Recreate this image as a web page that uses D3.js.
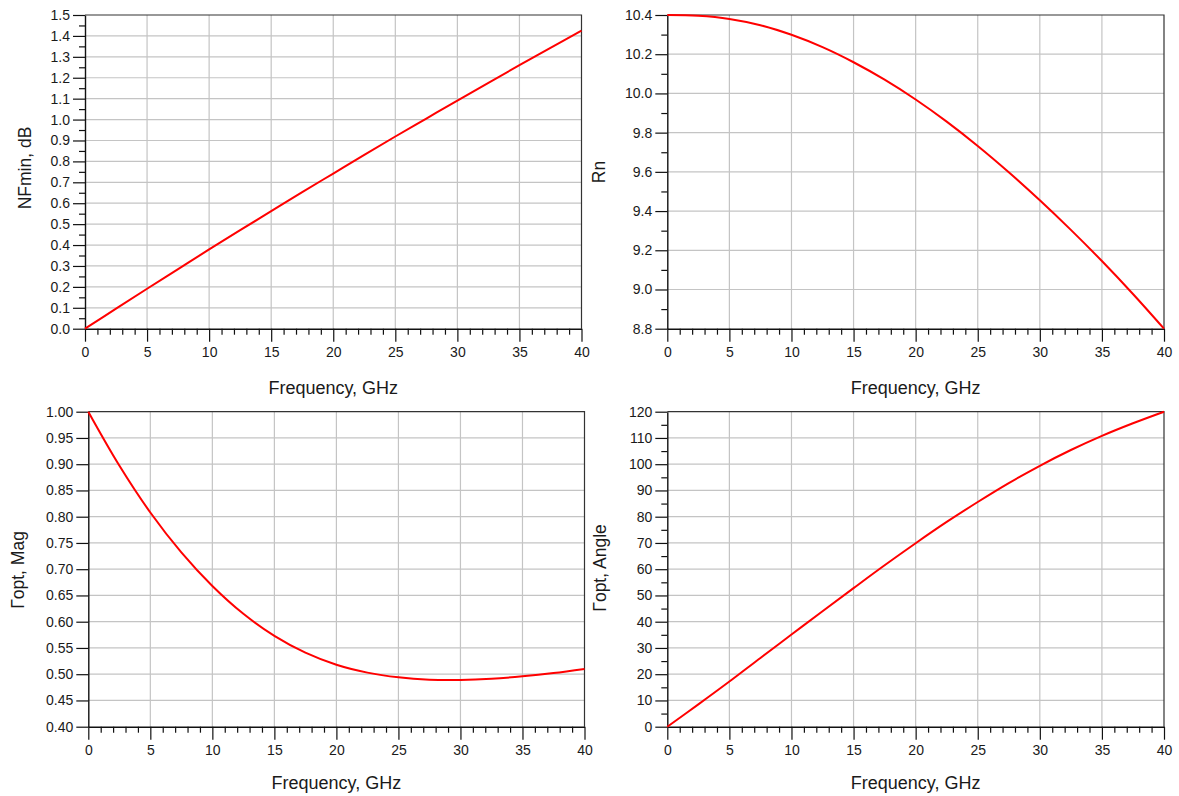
<!DOCTYPE html>
<html>
<head>
<meta charset="utf-8">
<script src="https://cdn.jsdelivr.net/npm/d3@7"></script>
<style>
  html, body { margin: 0; padding: 0; background: #fff; }
  svg { display: block; font-family: "Liberation Sans", Arial, sans-serif; }
</style>
</head>
<body>
<svg id="chart" width="1179" height="796"></svg>
<script>
// ---- data ----
const freq = [0, 2.5, 5, 7.5, 10, 12.5, 15, 17.5, 20, 22.5, 25, 27.5, 30, 32.5, 35, 37.5, 40];
const nfmin = [0, 0.096, 0.191, 0.285, 0.379, 0.471, 0.562, 0.653, 0.742, 0.831, 0.919, 1.005, 1.091, 1.176, 1.260, 1.343, 1.425];
const rn = [10.400, 10.396, 10.380, 10.348, 10.299, 10.236, 10.159, 10.070, 9.969, 9.856, 9.732, 9.598, 9.455, 9.304, 9.145, 8.977, 8.800];
const gMag = [1.000, 0.8975, 0.808, 0.732, 0.668, 0.615, 0.573, 0.541, 0.518, 0.503, 0.494, 0.4895, 0.489, 0.4913, 0.496, 0.5022, 0.510];
const gAng = [0, 8.5, 17.2, 26.2, 35.1, 44.0, 52.8, 61.5, 69.9, 78.0, 85.6, 92.8, 99.4, 105.4, 110.8, 115.6, 120.0];

const xTicks = [0, 5, 10, 15, 20, 25, 30, 35, 40];
const xMinorTicks = d3.range(0, 41, 1);
const xTitle = "Frequency, GHz";

const nfTicks = [0, 0.1, 0.2, 0.3, 0.4, 0.5, 0.6, 0.7, 0.8, 0.9, 1.0, 1.1, 1.2, 1.3, 1.4, 1.5];
const nfMinor = [0.05, 0.15, 0.25, 0.35, 0.45, 0.55, 0.65, 0.75, 0.85, 0.95, 1.05, 1.15, 1.25, 1.35, 1.45];
const rnTicks = [8.8, 9.0, 9.2, 9.4, 9.6, 9.8, 10.0, 10.2, 10.4];
const rnMinor = [8.9, 9.1, 9.3, 9.5, 9.7, 9.9, 10.1, 10.3];
const magTicks = [0.40, 0.45, 0.50, 0.55, 0.60, 0.65, 0.70, 0.75, 0.80, 0.85, 0.90, 0.95, 1.00];
const magMinor = [];
const angTicks = [0, 10, 20, 30, 40, 50, 60, 70, 80, 90, 100, 110, 120];
const angMinor = [5, 15, 25, 35, 45, 55, 65, 75, 85, 95, 105, 115];

const panels = [
  { values: nfmin, title: "NFmin, dB", yDomain: [0, 1.5], ticks: nfTicks, minor: nfMinor, fmt: ".1f",
    left: 85, right: 581.5, top: 15, bottom: 328.7, titleX: 30.5, titleY: 168, xTitleY: 394 },
  { values: rn, title: "Rn", yDomain: [8.8, 10.4], ticks: rnTicks, minor: rnMinor, fmt: ".1f",
    left: 667.3, right: 1164, top: 15, bottom: 328.7, titleX: 605, titleY: 172, xTitleY: 394 },
  { values: gMag, title: "Γopt, Mag", yDomain: [0.4, 1.0], ticks: magTicks, minor: magMinor, fmt: ".2f",
    left: 88.3, right: 584.5, top: 411.7, bottom: 726.7, titleX: 24, titleY: 570, xTitleY: 789 },
  { values: gAng, title: "Γopt, Angle", yDomain: [0, 120], ticks: angTicks, minor: angMinor, fmt: "d",
    left: 667.3, right: 1164, top: 411.7, bottom: 726.7, titleX: 606, titleY: 568, xTitleY: 789 }
];

const svg = d3.select("#chart");

panels.forEach(p => {
  const g = svg.append("g");
  const x = d3.scaleLinear().domain([0, 40]).range([p.left, p.right]);
  const y = d3.scaleLinear().domain(p.yDomain).range([p.bottom, p.top]);

  // grid
  g.append("g").selectAll("line.v").data(xTicks.slice(1, -1)).join("line")
    .attr("x1", d => x(d)).attr("x2", d => x(d))
    .attr("y1", p.top).attr("y2", p.bottom)
    .attr("stroke", "#c4c4c4").attr("stroke-width", 1.2);
  g.append("g").selectAll("line.h").data(p.ticks.slice(1, -1)).join("line")
    .attr("x1", p.left).attr("x2", p.right)
    .attr("y1", d => y(d)).attr("y2", d => y(d))
    .attr("stroke", "#c4c4c4").attr("stroke-width", 1.2);

  // frame (top & right)
  g.append("path")
    .attr("d", `M${p.left},${p.top}H${p.right}V${p.bottom}`)
    .attr("fill", "none").attr("stroke", "#333").attr("stroke-width", 1.2);

  // minor ticks
  if (p.minor.length) {
    g.append("g").attr("transform", `translate(${p.left},0)`)
      .call(d3.axisLeft(y).tickValues(p.minor).tickSize(6).tickFormat(""))
      .call(a => a.select(".domain").remove());
  }
  g.append("g").attr("transform", `translate(0,${p.bottom})`)
    .call(d3.axisBottom(x).tickValues(xMinorTicks.filter(v => v % 5 !== 0)).tickSize(6).tickFormat(""))
    .call(a => a.select(".domain").remove());

  // major axes
  const ya = g.append("g").attr("transform", `translate(${p.left},0)`)
    .call(d3.axisLeft(y).tickValues(p.ticks).tickSize(12).tickPadding(3).tickFormat(d3.format(p.fmt)).tickSizeOuter(0));
  const xa = g.append("g").attr("transform", `translate(0,${p.bottom})`)
    .call(d3.axisBottom(x).tickValues(xTicks).tickSize(13).tickPadding(5).tickFormat(d3.format("d")).tickSizeOuter(0));
  [ya, xa].forEach(a => {
    a.selectAll("text").attr("font-size", 14).attr("fill", "#1a1a1a")
      .attr("font-family", '"Liberation Sans", Arial, sans-serif');
    a.select(".domain").attr("stroke", "#111").attr("stroke-width", 1.4);
  });
  g.selectAll("g.tick line").attr("stroke", "#111").attr("stroke-width", 1.2);

  // curve
  const line = d3.line().x((d, i) => x(freq[i])).y(d => y(d)).curve(d3.curveCatmullRom.alpha(0.5));
  g.append("path").datum(p.values)
    .attr("d", line).attr("fill", "none").attr("stroke", "#ff0000").attr("stroke-width", 2);

  // titles
  g.append("text")
    .attr("x", (p.left + p.right) / 2).attr("y", p.xTitleY)
    .attr("text-anchor", "middle").attr("font-size", 18).attr("fill", "#1a1a1a")
    .text(xTitle);
  g.append("text")
    .attr("transform", `translate(${p.titleX},${p.titleY}) rotate(-90)`)
    .attr("text-anchor", "middle").attr("font-size", 17.5).attr("fill", "#1a1a1a")
    .text(p.title);
});
</script>
</body>
</html>
